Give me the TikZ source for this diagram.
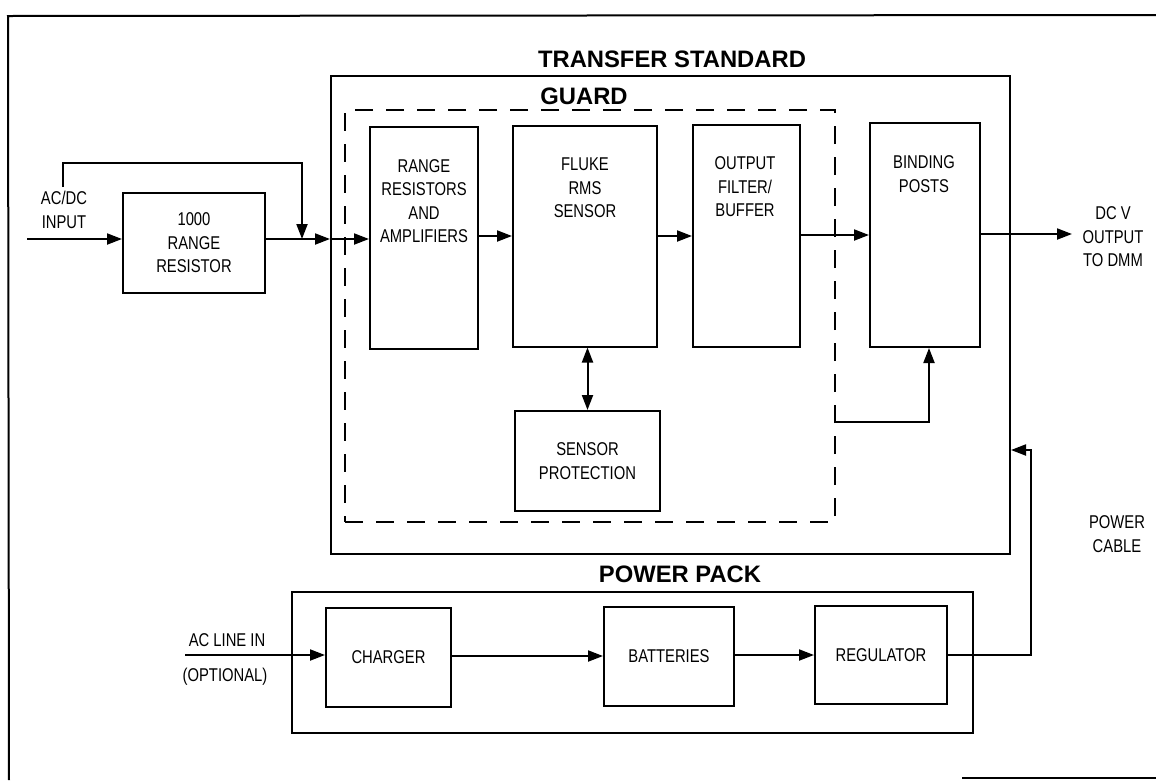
\documentclass[tikz,border=0pt]{standalone}
\usepackage{fontspec}
\setmainfont{Liberation Sans}[FakeStretch=0.8]
\newfontfamily\headfont{Liberation Sans}
\usetikzlibrary{arrows.meta,calc}

\tikzset{
  wire/.style={line width=2pt},
  arr/.style={wire,-{Triangle[length=15pt,width=11pt]}},
  arrboth/.style={wire,{Triangle[length=15pt,width=11pt]}-{Triangle[length=15pt,width=11pt]}},
  blk/.style={draw,line width=2pt,inner sep=0pt,align=center,
    font=\fontsize{18.5}{23.5}\selectfont},
  txt/.style={inner sep=0pt,align=center,font=\fontsize{18.5}{23.5}\selectfont},
  head/.style={inner sep=0pt,font=\headfont\bfseries\fontsize{23.8}{27}\selectfont},
  enclosure/.style={draw,line width=2pt,inner sep=0pt},
  guardline/.style={draw,line width=2pt,dash pattern=on 18pt off 13pt,inner sep=0pt}
}

\begin{document}
\begin{tikzpicture}[x=1pt,y=-1pt]
\useasboundingbox (0,0) rectangle (1156,780);

% sheet frame
\draw[wire] (9,780) -- (8,16) -- (1156,15);
\draw[wire] (962,778) -- (1156,778);

% enclosures
\node[enclosure,minimum width=679pt,minimum height=478pt] (ts) at (670.5,315) {};
\node[head] (tslab) at (672,59.5) {TRANSFER STANDARD};
\node[guardline,minimum width=490pt,minimum height=412pt] (guard) at (590,316) {};
\node[head] (guardlab) at (584,96) {GUARD};
\node[enclosure,minimum width=681pt,minimum height=141pt] (pp) at (632.5,662.5) {};
\node[head] (pplab) at (680,574) {POWER PACK};

% blocks
\node[blk,minimum width=142pt,minimum height=100pt] (rng) at (194,243) {1000\\RANGE\\RESISTOR};
\node[blk,minimum width=108pt,minimum height=222pt] (rr) at (424,238) {};
\node[txt] at (424,201) {RANGE\\RESISTORS\\AND\\AMPLIFIERS};
\node[blk,minimum width=144pt,minimum height=221pt] (fl) at (585,236) {};
\node[txt] at (585,188) {FLUKE\\RMS\\SENSOR};
\node[blk,minimum width=107pt,minimum height=222pt] (of) at (746.5,236) {};
\node[txt] at (745,187) {OUTPUT\\FILTER/\\BUFFER};
\node[blk,minimum width=110pt,minimum height=224pt] (bp) at (925,235) {};
\node[txt] at (924,174) {BINDING\\POSTS};
\node[blk,minimum width=145pt,minimum height=100pt] (sp) at (587.5,461) {SENSOR\\PROTECTION};
\node[blk,minimum width=125pt,minimum height=99pt] (ch) at (388.5,657) {CHARGER};
\node[blk,minimum width=130pt,minimum height=99pt] (bt) at (669,656) {BATTERIES};
\node[blk,minimum width=132pt,minimum height=98pt] (rg) at (881,655) {REGULATOR};

% outside labels
\node[txt] (inlab) at (64,210) {AC/DC\\INPUT};
\node[txt] (outlab) at (1113,237) {DC V\\OUTPUT\\TO DMM};
\node[txt] (pclab) at (1117,534) {POWER\\CABLE};
\node[txt] (aclab) at (227,640) {AC LINE IN};
\node[txt] (optlab) at (225,677) {(OPTIONAL)};

% signal path
\coordinate (acin) at (27,239);
\coordinate (tsin) at (ts.west |- acin);
\coordinate (byp) at (63,187);
\coordinate (bypTop) at (302,163);
\coordinate (jn) at (302,239);
\draw[arr] (acin) -- (acin -| rng.west);
\draw[arr] (rng.east |- acin) -- (tsin);
\draw[arr] (tsin) -- (tsin -| rr.west);
\draw[arr] (byp) |- (bypTop) -- (jn);
\draw[arr] (rr.east |- fl.west) -- (fl.west);
\draw[arr] (fl.east) -- (fl.east -| of.west);
\draw[arr] (of.east |- bp.west) -- (bp.west);
\coordinate (dcout) at (1072,234);
\draw[arr] (bp.east |- dcout) -- (dcout);
\draw[arrboth] (sp.north |- fl.south) -- (sp.north);

% guard connection to binding posts
\coordinate (gdo) at (guard.east |- 0,422);
\draw[arr] (gdo) -| ([xshift=4pt]bp.south);

% power path
\coordinate (acl) at (185,655);
\draw[arr] (acl) -- (acl -| ch.west);
\draw[arr] (ch.east |- bt.west) -- (bt.west);
\draw[arr] (bt.east |- rg.west) -- (rg.west);
\coordinate (pc) at (1031,450);
\draw[arr] (rg.east) -| (pc) -- (pc -| ts.east);
\end{tikzpicture}
\end{document}
